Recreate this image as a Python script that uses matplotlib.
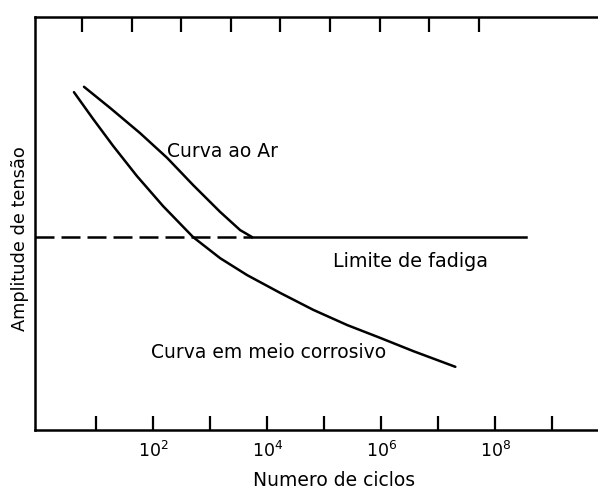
import numpy as np
import matplotlib
matplotlib.use("Agg")
import matplotlib.pyplot as plt

# Curva S-N ao ar (ciclos, amplitude relativa)
ar_ciclos = [6.15, 17.6, 59, 176, 504, 1500, 3360, 5460]
ar_amplitude = [0.831, 0.780, 0.719, 0.659, 0.593, 0.528, 0.484, 0.467]

# Curva S-N em meio corrosivo
corr_ciclos = [4.1, 8.9, 19.9, 52, 150, 504, 1500, 4460, 16900, 64100,
               2.54e5, 9.6e5, 3.64e6, 1.99e7]
corr_amplitude = [0.818, 0.753, 0.688, 0.615, 0.542, 0.467, 0.416, 0.375,
                  0.332, 0.291, 0.254, 0.223, 0.191, 0.153]

# Limite de fadiga: tracejado ate o joelho, cheio depois
limite_amplitude = 0.467
limite_inicio = 10 ** -0.07
limite_joelho = 5460
limite_fim = 3.4e8

decadas_ticks = [10 ** k for k in range(1, 10)]
decadas_rotulos = ["", r"$10^2$", "", r"$10^4$", "", r"$10^6$", "", r"$10^8$", ""]

plt.rcParams["font.family"] = "DejaVu Sans"

fig = plt.figure(figsize=(5.98, 4.93), dpi=100)
ax = fig.add_axes([35 / 598, 1 - 430 / 493, 1 - 35 / 598, 413 / 493])

lw = 1.8
ax.plot(ar_ciclos, ar_amplitude, color="black", lw=lw,
        solid_capstyle="round", solid_joinstyle="round")
ax.plot(corr_ciclos, corr_amplitude, color="black", lw=lw,
        solid_capstyle="round", solid_joinstyle="round")
ax.plot([limite_inicio, limite_joelho], [limite_amplitude, limite_amplitude],
        color="black", lw=lw, ls=(0, (7.6, 2.8)))
ax.plot([limite_joelho, limite_fim], [limite_amplitude, limite_amplitude],
        color="black", lw=lw)

ax.set_xscale("log")
ax.set_xlim(10 ** -0.07, 10 ** 9.8)
ax.set_ylim(0, 1)

ax.set_xticks(decadas_ticks)
ax.set_xticklabels(decadas_rotulos)
ax.xaxis.set_minor_locator(matplotlib.ticker.NullLocator())
ax.tick_params(axis="x", direction="in", length=10, width=1.6, pad=8,
               labelsize=12.5)
ax.set_yticks([])

for lado in ["left", "bottom", "top"]:
    ax.spines[lado].set_linewidth(1.8)
ax.spines["right"].set_visible(False)

# escala superior com marcas igualmente espacadas
topo = ax.twiny()
topo.set_xlim((35 - 82) / 49.6 + 1, (598 - 82) / 49.6 + 1)
topo.set_xticks(range(1, 10))
topo.set_xticklabels([])
topo.tick_params(axis="x", direction="in", length=10.5, width=1.6)
for lado in ["left", "bottom", "right", "top"]:
    topo.spines[lado].set_visible(False)

ax.text(175, 0.661, "Curva ao Ar", fontsize=13.5, va="baseline")
ax.text(1.4e5, 0.395, "Limite de fadiga", fontsize=13.8, va="baseline")
ax.text(92, 0.174, "Curva em meio corrosivo", fontsize=13.5, va="baseline")

fig.text(334 / 598, 1 - 481 / 493, "Numero de ciclos", fontsize=13.5,
         ha="center", va="center")
fig.text(20 / 598, 1 - 239 / 493, "Amplitude de tensão", fontsize=12.8,
         ha="center", va="center", rotation=90)

fig.savefig("out.png", dpi=100)
